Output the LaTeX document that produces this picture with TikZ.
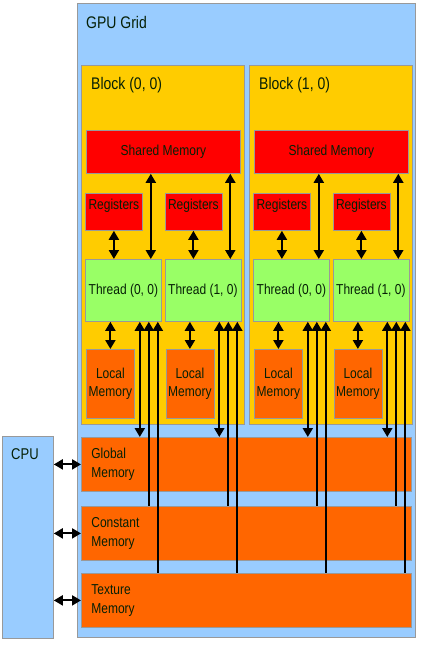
\documentclass[tikz,border=0pt]{standalone}
\usepackage{fontspec}
\setmainfont{Liberation Sans}
\usetikzlibrary{arrows.meta}

\definecolor{gridblue}{HTML}{99CCFF}
\definecolor{blockyellow}{HTML}{FFCC00}
\definecolor{memred}{HTML}{FF0000}
\definecolor{threadgreen}{HTML}{99FF66}
\definecolor{memorange}{HTML}{FF6600}
\definecolor{edgegray}{HTML}{999999}
\definecolor{labelink}{HTML}{062006}

% text is set a little taller than wide
\newcommand{\tallword}[1]{\scalebox{1}[1.2]{#1}}
\newcommand{\tallt}[2][c]{\scalebox{1}[1.2]{\begin{tabular}{@{}#1@{}}#2\end{tabular}}}

\tikzset{
    box/.style={draw=edgegray, line width=0.8pt, anchor=north west, inner sep=0pt},
    title/.style={anchor=north west, inner sep=0pt, font=\fontsize{14}{16}\selectfont},
    link/.style={line width=2pt, {Triangle[length=9pt,width=10pt]}-{Triangle[length=9pt,width=10pt]}},
    uplink/.style={line width=2pt, {Triangle[length=9pt,width=10pt]}-},
}

\begin{document}
\begin{tikzpicture}[x=1pt, y=-1pt, text=labelink, font=\fontsize{12}{15.5}\selectfont]
    \useasboundingbox (0,0) rectangle (429,647);

    % Grid and host
    \node[box, fill=gridblue, minimum width=338pt, minimum height=634pt,
          label={[title, xshift=9pt, yshift=-13pt]north west:\tallword{GPU Grid}}] (grid) at (77,3) {};
    \node[box, fill=gridblue, minimum width=51pt, minimum height=202pt,
          label={[title, font=\fontsize{13}{15}\selectfont, xshift=9pt, yshift=-12pt]north west:\tallword{CPU}}] (cpu) at (2,436) {};

    % Device memories
    \foreach \m/\y/\txt in {glob/437/Global, const/506/Constant, tex/573/Texture} {
        \node[box, fill=memorange, minimum width=330pt, minimum height=54pt,
              inner xsep=10pt, text width=310pt, align=left] (\m) at (81,\y) {\tallt[l]{\txt\\Memory}};
        \draw[link] (cpu.east |- \m.west) -- (\m.west);
    }

    % Blocks with their threads
    \foreach \b/\ox in {0/0, 1/168} {
        \node[box, fill=blockyellow, minimum width=163pt, minimum height=359pt,
              label={[title, xshift=10pt, yshift=-12pt]north west:\tallword{Block (\b, 0)}}] (blk\b) at (81+\ox,65) {};
        \node[box, fill=memred, minimum width=154pt, minimum height=43pt] (shr\b) at (86+\ox,130) {\tallt{Shared Memory}};
        \foreach \t/\dx in {0/0, 1/79.5} {
            \node[box, fill=memred, minimum width=57pt, minimum height=37pt,
                  label={[anchor=north, inner sep=0pt, yshift=-6pt]north:\tallword{Registers}}] (reg\b\t) at (85+\ox+\dx,193) {};
            \node[box, fill=threadgreen, minimum width=76pt, minimum height=62pt] (thr\b\t) at (85+\ox+\dx,259) {\tallt{Thread (\t, 0)}};
            \node[box, fill=memorange, minimum width=48pt, minimum height=69pt] (loc\b\t) at (86+\ox+\dx,349) {\tallt{Local\\Memory}};

            \draw[link] (reg\b\t.south) -- (reg\b\t.south |- thr\b\t.north);
            \draw[link] ([xshift=-11pt]thr\b\t.north east) -- ([xshift=-11pt]thr\b\t.north east |- shr\b.south);
            \draw[link] (loc\b\t.north) -- (loc\b\t.north |- thr\b\t.south);
            \draw[link] ([xshift=-22pt]thr\b\t.south east) -- ([xshift=-22pt]thr\b\t.south east |- glob.north);
            \draw[uplink] ([xshift=-13pt]thr\b\t.south east) -- ([xshift=-13pt]thr\b\t.south east |- const.north);
            \draw[uplink] ([xshift=-4pt]thr\b\t.south east) -- ([xshift=-4pt]thr\b\t.south east |- tex.north);
        }
    }
\end{tikzpicture}
\end{document}
